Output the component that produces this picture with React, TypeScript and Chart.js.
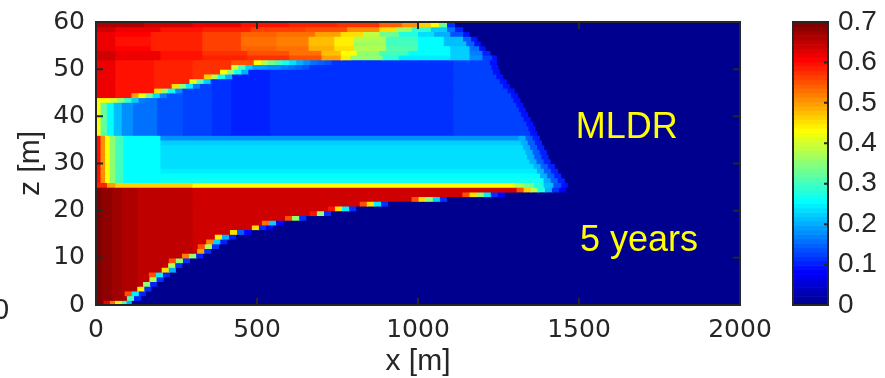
import React, { useEffect, useRef } from 'react';
import { Chart, registerables } from 'chart.js';

Chart.register(...registerables);

type Run = [number, number]; // [x end (m), value]
type Seg = { x0: number; x1: number; v: number };

// ---------- axes / ticks ----------
const X_MAX = 2000;
const Z_MAX = 60;
const V_MAX = 0.7;
const X_TICKS = [0, 500, 1000, 1500, 2000];
const Z_TICKS = [0, 10, 20, 30, 40, 50, 60];
const CB_TICKS = [0, 0.1, 0.2, 0.3, 0.4, 0.5, 0.6, 0.7];
const RAMP_DX = 22; // width of one transition cell (m)

// ---------- annotations ----------
const LABELS = ['MLDR', '5 years'];
const LABEL_X = [1490, 1503];
const LABEL_Z = [35.5, 11.4];

// ---------- bottom layer, z = 0..25 m ----------
const BOTTOM_ROW0: Run[] = [[23, 0.69], [43, 0.615], [59, 0.53], [80, 0.44], [95, 0.3], [111, 0.2]];
const BOTTOM_PROFILE: Run[] = [[15, 0.694], [50, 0.684], [80, 0.673], [130, 0.662], [300, 0.651], [2000, 0.64]];
const BOTTOM_FRONT = [140, 155, 172, 190, 210, 230, 248, 268, 292, 333, 358, 382, 408, 435, 482, 550, 581, 653, 730, 808, 907, 1090, 1270, 1460];
const BOTTOM_RAMPS: number[][] = [
  [0.3, 0.1],
  [0.55, 0.25, 0.1],
  [0.44, 0.12],
  [0.35, 0.1],
  [0.38, 0.12],
  [0.55, 0.25, 0.1],
  [0.45, 0.2],
  [0.38, 0.12],
  [0.55, 0.35, 0.12],
  [0.52, 0.35, 0.1],
  [0.5, 0.12],
  [0.55, 0.38, 0.12],
  [0.52, 0.22, 0.1],
  [0.44, 0.2, 0.1],
  [0.45, 0.15, 0.08],
  [0.45, 0.12, 0.08],
  [0.53, 0.22, 0.08],
  [0.55, 0.35, 0.12],
  [0.6, 0.35, 0.12],
  [0.6, 0.45, 0.25, 0.12],
  [0.55, 0.45, 0.25, 0.12],
  [0.55, 0.45, 0.35, 0.22, 0.12],
  [0.55, 0.45, 0.35, 0.25, 0.12, 0.08],
  [0.55, 0.47, 0.38, 0.28, 0.2, 0.12, 0.08],
];

// ---------- interface row, z = 25 m ----------
const INTERFACE_ROW: Run[] = [[34, 0.59], [60, 0.5], [300, 0.46], [1300, 0.43], [1330, 0.38], [1360, 0.33], [1390, 0.28], [1420, 0.21], [1445, 0.14], [1465, 0.09]];

// ---------- cyan layer, z = 26..35 m ----------
const CYAN_LEFT: Run[] = [[14, 0.6], [28, 0.51], [42, 0.43], [60, 0.35], [85, 0.3], [200, 0.262]];
const CYAN_LEVEL = [0.27, 0.257, 0.245, 0.24, 0.235, 0.235, 0.23, 0.23, 0.225, 0.175];
const CYAN_FRONT = [1456, 1445, 1435, 1425, 1412, 1405, 1400, 1392, 1385, 1378];
const CYAN_TAIL = [0.2, 0.15, 0.1];

// ---------- blue layer, z = 36..51 m ----------
const BLUE_PROFILE: Run[] = [[14, 0.43], [34, 0.32], [55, 0.26], [80, 0.21], [115, 0.18], [190, 0.155], [270, 0.14], [360, 0.13], [420, 0.12], [540, 0.107], [1110, 0.118], [2000, 0.128]];
const BLUE_FRONT = [1370, 1365, 1358, 1350, 1342, 1335, 1327, 1318, 1311, 1300, 1286, 1276, 1265, 1255, 1250, 1245];
const BLUE_TAIL = [0.09];
const UPPER_RED: Run[] = [[60, 0.62], [180, 0.6], [300, 0.585], [420, 0.57], [2000, 0.555]];
const UPPER_EDGE = [0, 0, 0, 0, 0, 0, 0, 0, 110, 180, 235, 290, 335, 385, 420, 490];
const UPPER_RAMPS: number[][] = [
  [], [], [], [], [], [], [],
  [0.43, 0.43, 0.4, 0.35, 0.29, 0.22, 0.17],
  [0.5, 0.43, 0.33, 0.24, 0.17],
  [0.45, 0.36, 0.26, 0.18],
  [0.45, 0.35, 0.25, 0.17],
  [0.42, 0.32, 0.22],
  [0.47, 0.38, 0.27, 0.2],
  [0.43, 0.35, 0.27, 0.2],
  [0.4, 0.3, 0.22, 0.19, 0.19, 0.18, 0.18, 0.17, 0.16, 0.15, 0.14],
  [0.43, 0.38, 0.33, 0.3, 0.27, 0.24, 0.2, 0.18, 0.16, 0.15, 0.14],
];

// ---------- top layer, z = 52..59 m (bottom to top) ----------
const TOP_ROWS: Run[][] = [
  [[60, 0.64], [200, 0.62], [330, 0.6], [470, 0.58], [600, 0.57], [700, 0.55], [760, 0.5], [790, 0.44], [890, 0.36], [940, 0.29], [1100, 0.25], [1160, 0.22], [1200, 0.18], [1230, 0.13], [1245, 0.09]],
  [[60, 0.64], [200, 0.62], [330, 0.6], [470, 0.575], [600, 0.55], [700, 0.525], [760, 0.48], [810, 0.43], [880, 0.36], [970, 0.3], [1100, 0.26], [1160, 0.22], [1200, 0.17], [1225, 0.1]],
  [[60, 0.62], [170, 0.605], [330, 0.585], [450, 0.565], [560, 0.545], [660, 0.53], [740, 0.49], [800, 0.45], [900, 0.38], [1000, 0.31], [1100, 0.26], [1160, 0.22], [1190, 0.16], [1210, 0.09]],
  [[60, 0.615], [170, 0.6], [330, 0.58], [450, 0.56], [560, 0.535], [660, 0.52], [740, 0.48], [800, 0.44], [900, 0.37], [1000, 0.3], [1080, 0.26], [1150, 0.21], [1175, 0.15], [1195, 0.09]],
  [[60, 0.615], [170, 0.6], [330, 0.58], [450, 0.56], [560, 0.535], [660, 0.52], [740, 0.48], [800, 0.44], [900, 0.38], [1000, 0.3], [1080, 0.26], [1140, 0.21], [1165, 0.15], [1185, 0.09]],
  [[60, 0.615], [170, 0.605], [330, 0.585], [450, 0.56], [560, 0.54], [680, 0.53], [760, 0.5], [830, 0.45], [880, 0.39], [940, 0.33], [1000, 0.28], [1050, 0.24], [1100, 0.2], [1140, 0.14], [1160, 0.09]],
  [[60, 0.64], [200, 0.62], [330, 0.6], [480, 0.58], [650, 0.565], [780, 0.55], [880, 0.51], [930, 0.45], [980, 0.37], [1040, 0.29], [1090, 0.22], [1115, 0.16], [1140, 0.1]],
  [[150, 0.662], [300, 0.64], [450, 0.618], [600, 0.6], [750, 0.59], [880, 0.57], [950, 0.54], [1000, 0.51], [1040, 0.47], [1065, 0.43], [1090, 0.33], [1115, 0.12]],
];

// ---------- MATLAB jet(64) ----------
function jet(v: number): string {
  let k = Math.floor((v / V_MAX) * 64) + 1;
  k = Math.max(1, Math.min(64, k));
  const r = k <= 24 ? 0 : k <= 40 ? (k - 24) / 16 : k <= 55 ? 1 : (72 - k) / 16;
  const g = k <= 8 ? 0 : k <= 24 ? (k - 8) / 16 : k <= 39 ? 1 : k <= 55 ? (56 - k) / 16 : 0;
  const b = k <= 8 ? (k + 8) / 16 : k <= 23 ? 1 : k <= 39 ? (40 - k) / 16 : 0;
  return `rgb(${Math.round(r * 255)},${Math.round(g * 255)},${Math.round(b * 255)})`;
}

function clip(profile: Run[], from: number, to: number): Seg[] {
  const out: Seg[] = [];
  let start = 0;
  for (const [end, v] of profile) {
    const a = Math.max(start, from);
    const b = Math.min(end, to);
    if (b > a) out.push({ x0: a, x1: b, v });
    start = end;
  }
  return out;
}
function ramp(start: number, vals: number[]): Seg[] {
  return vals.map((v, k) => ({ x0: start + k * RAMP_DX, x1: start + (k + 1) * RAMP_DX, v }));
}
function zero(from: number): Seg[] {
  return [{ x0: from, x1: X_MAX, v: 0 }];
}

function buildRows(): Seg[][] {
  const rows: Seg[][] = [];
  rows.push(clip([...BOTTOM_ROW0, [X_MAX, 0]], 0, X_MAX));
  BOTTOM_FRONT.forEach((front, i) => {
    const rv = BOTTOM_RAMPS[i];
    const edge = front - rv.length * RAMP_DX;
    rows.push([...clip(BOTTOM_PROFILE, 0, edge), ...ramp(edge, rv), ...zero(front)]);
  });
  rows.push(clip([...INTERFACE_ROW, [X_MAX, 0]], 0, X_MAX));
  CYAN_FRONT.forEach((front, i) => {
    const edge = front - CYAN_TAIL.length * RAMP_DX;
    const prof: Run[] = [...CYAN_LEFT, [X_MAX, CYAN_LEVEL[i]]];
    rows.push([...clip(prof, 0, edge), ...ramp(edge, CYAN_TAIL), ...zero(front)]);
  });
  BLUE_FRONT.forEach((front, i) => {
    const redEnd = UPPER_EDGE[i];
    const rv = UPPER_RAMPS[i];
    const blueStart = redEnd + rv.length * RAMP_DX;
    const tailStart = front - BLUE_TAIL.length * RAMP_DX;
    rows.push([
      ...clip(UPPER_RED, 0, redEnd),
      ...ramp(redEnd, rv),
      ...clip(BLUE_PROFILE, blueStart, tailStart),
      ...ramp(tailStart, BLUE_TAIL),
      ...zero(front),
    ]);
  });
  TOP_ROWS.forEach((runs) => rows.push(clip([...runs, [X_MAX, 0]], 0, X_MAX)));
  return rows;
}

const TEXT = '#262626';
const TICK_FONT = { family: '"DejaVu Sans", sans-serif', size: 25 };
const TITLE_FONT = { family: '"Liberation Sans", Arial, sans-serif', size: 30, lineHeight: 1 };

function noPad(s: any) {
  s.paddingTop = 0;
  s.paddingBottom = 0;
  s.paddingLeft = 0;
  s.paddingRight = 0;
}

const decorPlugin = {
  id: 'decor',
  afterDatasetsDraw(chart: any) {
    const { ctx, chartArea: a, scales } = chart;
    const xs = scales.x, ys = scales.y, cb = scales.cb;
    ctx.save();
    // annotations
    ctx.fillStyle = '#FFFF00';
    ctx.font = '36px "Liberation Sans", Arial, sans-serif';
    ctx.textAlign = 'left';
    ctx.textBaseline = 'alphabetic';
    LABELS.forEach((t, i) => ctx.fillText(t, xs.getPixelForValue(LABEL_X[i]), ys.getPixelForValue(LABEL_Z[i])));
    // box + inward ticks
    ctx.strokeStyle = TEXT;
    ctx.lineWidth = 2;
    ctx.strokeRect(a.left, a.top, a.right - a.left, a.bottom - a.top);
    const TL = 7;
    ctx.beginPath();
    X_TICKS.forEach((t) => {
      if (t === 0 || t === X_MAX) return;
      const p = xs.getPixelForValue(t);
      ctx.moveTo(p, a.bottom); ctx.lineTo(p, a.bottom - TL);
      ctx.moveTo(p, a.top); ctx.lineTo(p, a.top + TL);
    });
    Z_TICKS.forEach((t) => {
      if (t === 0 || t === Z_MAX) return;
      const p = ys.getPixelForValue(t);
      ctx.moveTo(a.left, p); ctx.lineTo(a.left + TL, p);
      ctx.moveTo(a.right, p); ctx.lineTo(a.right - TL, p);
    });
    ctx.stroke();
    // colorbar
    const bx0 = a.right + 53, bx1 = a.right + 88;
    for (let k = 0; k < 64; k++) {
      const v0 = (k / 64) * V_MAX, v1 = ((k + 1) / 64) * V_MAX;
      const y0 = cb.getPixelForValue(v0), y1 = cb.getPixelForValue(v1);
      ctx.fillStyle = jet((v0 + v1) / 2);
      ctx.fillRect(bx0, y1, bx1 - bx0, y0 - y1 + 0.6);
    }
    ctx.strokeStyle = TEXT;
    ctx.lineWidth = 2;
    const cTop = cb.getPixelForValue(V_MAX), cBot = cb.getPixelForValue(0);
    ctx.strokeRect(bx0, cTop, bx1 - bx0, cBot - cTop);
    ctx.beginPath();
    CB_TICKS.forEach((t) => {
      if (t === 0 || t === V_MAX) return;
      const p = cb.getPixelForValue(t);
      ctx.moveTo(bx1, p); ctx.lineTo(bx1 - 4, p);
    });
    ctx.stroke();
    // clipped label of the neighbouring panel at the left edge
    ctx.fillStyle = TEXT;
    ctx.font = '29px "Liberation Sans", Arial, sans-serif';
    ctx.textBaseline = 'middle';
    ctx.fillText('0', -7, ys.getPixelForValue(0) + 6);
    ctx.restore();
  },
};

export default function App() {
  const ref = useRef<HTMLCanvasElement>(null);
  useEffect(() => {
    document.body.style.margin = '0';
    const rows = buildRows();
    const cells: any[] = [];
    const colors: string[] = [];
    rows.forEach((segs, r) => {
      segs.forEach((s) => {
        cells.push({ y: r + 0.5, x: [s.x0, s.x1 + 3] });
        colors.push(jet(s.v));
      });
    });
    const chart = new Chart(ref.current as HTMLCanvasElement, {
      type: 'bar',
      data: {
        datasets: [
          {
            data: cells,
            backgroundColor: colors,
            borderWidth: 0,
            barPercentage: 1,
            categoryPercentage: 1.25,
            clip: 0,
          } as any,
        ],
      },
      options: {
        indexAxis: 'y',
        animation: false,
        responsive: false,
        events: [],
        layout: { autoPadding: false, padding: { top: 22, left: 0, right: 0, bottom: 0 } },
        plugins: { legend: { display: false }, tooltip: { enabled: false } },
        scales: {
          x: {
            type: 'linear',
            position: 'bottom',
            min: 0,
            max: X_MAX,
            offset: false,
            grid: { display: false, drawTicks: false, offset: false },
            border: { display: false },
            afterBuildTicks: (s: any) => { s.ticks = X_TICKS.map((value) => ({ value })); },
            afterFit: (s: any) => { s.height = 73; noPad(s); },
            ticks: { color: TEXT, font: TICK_FONT, padding: 10, maxRotation: 0, autoSkip: false, callback: (v: any) => String(v) },
            title: { display: true, text: 'x [m]', color: TEXT, font: TITLE_FONT, padding: { top: 0, bottom: 1 } },
          },
          y: {
            type: 'linear',
            position: 'left',
            min: 0,
            max: Z_MAX,
            offset: false,
            grid: { display: false, drawTicks: false, offset: false },
            border: { display: false },
            afterBuildTicks: (s: any) => { s.ticks = Z_TICKS.map((value) => ({ value })); },
            afterFit: (s: any) => { s.width = 96; noPad(s); },
            ticks: { color: TEXT, font: TICK_FONT, padding: 11, autoSkip: false, callback: (v: any) => String(v) },
            title: { display: true, text: 'z [m]', color: TEXT, font: TITLE_FONT, padding: { top: 16, bottom: 0 } },
          },
          cb: {
            type: 'linear',
            axis: 'y',
            position: 'right',
            min: 0,
            max: V_MAX,
            offset: false,
            grid: { display: false, drawTicks: false, offset: false },
            border: { display: false },
            afterBuildTicks: (s: any) => { s.ticks = CB_TICKS.map((value) => ({ value })); },
            afterFit: (s: any) => { s.width = 145; noPad(s); },
            ticks: {
              color: TEXT,
              font: { family: '"Liberation Sans", Arial, sans-serif', size: 28 },
              padding: 98,
              autoSkip: false,
              callback: (v: any) => (Number(v) === 0 ? '0' : Number(v).toFixed(1)),
            },
          },
        } as any,
      },
      plugins: [decorPlugin],
    });
    return () => chart.destroy();
  }, []);
  return (
    <div style={{ width: 885, height: 378 }}>
      <canvas ref={ref} width={885} height={378} style={{ display: 'block', width: 885, height: 378 }} />
    </div>
  );
}
